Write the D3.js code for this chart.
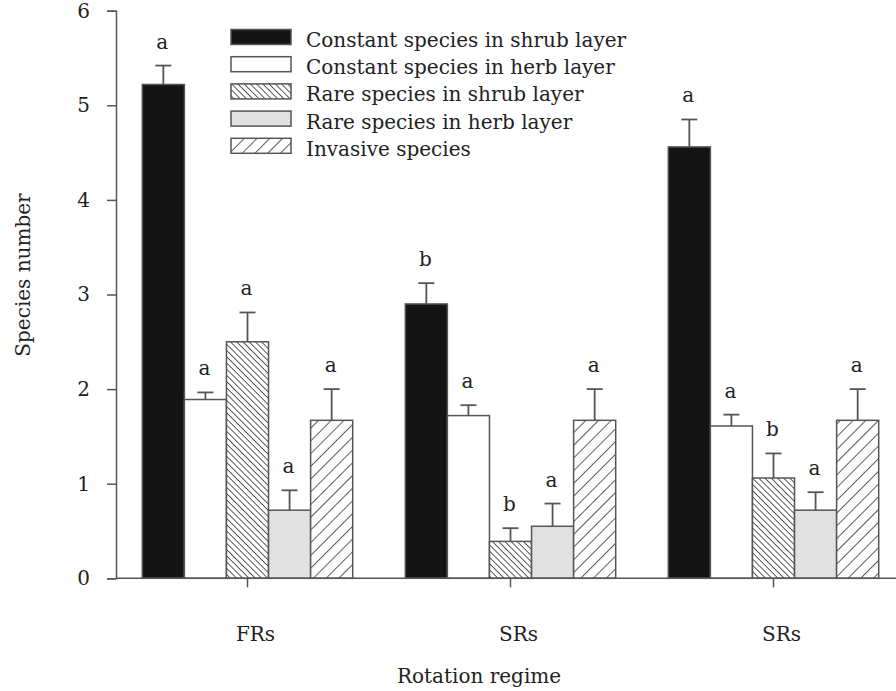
<!DOCTYPE html>
<html>
<head>
<meta charset="utf-8">
<script src="https://cdn.jsdelivr.net/npm/d3@7"></script>
<style>
  html, body { margin: 0; padding: 0; background: #fff; }
  svg text { font-family: "DejaVu Serif", "Liberation Serif", serif; fill: #222; }
</style>
</head>
<body>
<svg id="chart" width="896" height="691"></svg>
<script>
// Rotation regimes (x groups)
const regimes = ["FRs", "SRs", "SRs "];
const regimeLabels = ["FRs", "SRs", "SRs"];

// Species groups (series)
const seriesNames = [
  "Constant species in shrub layer",
  "Constant species in herb layer",
  "Rare species in shrub layer",
  "Rare species in herb layer",
  "Invasive species"
];

// Means per regime for each series
const constantShrub = [5.22, 2.90, 4.56];
const constantHerb  = [1.89, 1.72, 1.61];
const rareShrub     = [2.50, 0.39, 1.06];
const rareHerb      = [0.72, 0.55, 0.72];
const invasive      = [1.67, 1.67, 1.67];

// Standard errors
const errConstantShrub = [0.20, 0.22, 0.29];
const errConstantHerb  = [0.075, 0.11, 0.12];
const errRareShrub     = [0.31, 0.14, 0.26];
const errRareHerb      = [0.21, 0.24, 0.19];
const errInvasive      = [0.33, 0.33, 0.33];

// Significance letters
const letConstantShrub = ["a", "b", "a"];
const letConstantHerb  = ["a", "a", "a"];
const letRareShrub     = ["a", "b", "b"];
const letRareHerb      = ["a", "a", "a"];
const letInvasive      = ["a", "a", "a"];

const yTicks = [0, 1, 2, 3, 4, 5, 6];

const values  = [constantShrub, constantHerb, rareShrub, rareHerb, invasive];
const errors  = [errConstantShrub, errConstantHerb, errRareShrub, errRareHerb, errInvasive];
const letters = [letConstantShrub, letConstantHerb, letRareShrub, letRareHerb, letInvasive];
const fills   = ["#141414", "#ffffff", "url(#hatchBack)", "#e1e1e1", "url(#hatchFwd)"];

const svg = d3.select("#chart");
const stroke = "#555";
const FONT = "DejaVu Serif, Liberation Serif, serif";
const FS = 20;

// Hatch patterns
const defs = svg.append("defs");
const back = defs.append("pattern")
  .attr("id", "hatchBack").attr("patternUnits", "userSpaceOnUse")
  .attr("width", 4.4).attr("height", 4.4)
  .attr("patternTransform", "rotate(-45)");
back.append("rect").attr("width", 4.4).attr("height", 4.4).attr("fill", "#fff");
back.append("line").attr("x1", 0).attr("y1", 0).attr("x2", 0).attr("y2", 4.4)
  .attr("stroke", "#333").attr("stroke-width", 1.6);

const fwd = defs.append("pattern")
  .attr("id", "hatchFwd").attr("patternUnits", "userSpaceOnUse")
  .attr("width", 9).attr("height", 9)
  .attr("patternTransform", "rotate(45)");
fwd.append("rect").attr("width", 9).attr("height", 9).attr("fill", "#fff");
fwd.append("line").attr("x1", 0).attr("y1", 0).attr("x2", 0).attr("y2", 9)
  .attr("stroke", "#333").attr("stroke-width", 1.6);

// Scales
const x0 = d3.scaleBand().domain(regimes).range([116, 905])
  .paddingInner(0.2).paddingOuter(0.1);
const x1 = d3.scaleBand().domain(d3.range(seriesNames.length))
  .range([0, x0.bandwidth()]).padding(0);
const y = d3.scaleLinear().domain([0, 6]).range([578.3, 10.7]);

// Bars
const rows = [];
regimes.forEach((r, gi) => {
  seriesNames.forEach((s, si) => {
    rows.push({ r, gi, si, v: values[si][gi], e: errors[si][gi], l: letters[si][gi] });
  });
});

const g = svg.append("g");
g.selectAll("rect.bar").data(rows).join("rect")
  .attr("class", "bar")
  .attr("x", d => x0(d.r) + x1(d.si))
  .attr("y", d => y(d.v))
  .attr("width", x1.bandwidth())
  .attr("height", d => y(0) - y(d.v))
  .attr("fill", d => fills[d.si])
  .attr("stroke", stroke).attr("stroke-width", 1.5);

// Error bars (upper only)
const cx = d => x0(d.r) + x1(d.si) + x1.bandwidth() / 2;
g.selectAll("line.err").data(rows).join("line")
  .attr("class", "err")
  .attr("x1", cx).attr("x2", cx)
  .attr("y1", d => y(d.v)).attr("y2", d => y(d.v + d.e))
  .attr("stroke", stroke).attr("stroke-width", 1.8);
g.selectAll("line.cap").data(rows).join("line")
  .attr("class", "cap")
  .attr("x1", d => cx(d) - 8).attr("x2", d => cx(d) + 8)
  .attr("y1", d => y(d.v + d.e)).attr("y2", d => y(d.v + d.e))
  .attr("stroke", stroke).attr("stroke-width", 1.8);

// Significance letters
g.selectAll("text.sig").data(rows).join("text")
  .attr("class", "sig")
  .attr("x", d => cx(d) - 1)
  .attr("y", d => y(d.v + d.e) - 17)
  .attr("text-anchor", "middle")
  .attr("font-size", FS)
  .text(d => d.l);

// Y axis
const yAxis = svg.append("g").attr("transform", "translate(116,0)")
  .call(d3.axisLeft(y).tickValues(yTicks).tickSize(9).tickPadding(17).tickFormat(d3.format("d")));
yAxis.select(".domain").attr("stroke", stroke).attr("stroke-width", 1.5);
yAxis.selectAll(".tick line").attr("stroke", stroke).attr("stroke-width", 1.5);
yAxis.selectAll(".tick text").attr("font-size", FS).attr("fill", "#222")
  .attr("font-family", FONT);

// X axis
const xAxis = svg.append("g").attr("transform", `translate(0,${y(0)})`)
  .call(d3.axisBottom(x0).tickSize(9).tickPadding(40)
    .tickFormat((d, i) => regimeLabels[i]));
xAxis.select(".domain").attr("stroke", stroke).attr("stroke-width", 1.5)
  .attr("d", `M116,0H896`);
xAxis.selectAll(".tick line").attr("stroke", stroke).attr("stroke-width", 1.5);
xAxis.selectAll(".tick text").attr("font-size", FS).attr("fill", "#222")
  .attr("font-family", FONT).attr("dx", 8);

// Axis titles
svg.append("text")
  .attr("transform", "translate(30,275) rotate(-90)")
  .attr("text-anchor", "middle").attr("font-size", FS)
  .text("Species number");
svg.append("text")
  .attr("x", 479).attr("y", 683)
  .attr("text-anchor", "middle").attr("font-size", FS)
  .text("Rotation regime");

// Legend
const legend = svg.append("g").attr("transform", "translate(231,29.5)");
const li = legend.selectAll("g").data(seriesNames).join("g")
  .attr("transform", (d, i) => `translate(0,${i * 27.2})`);
li.append("rect").attr("width", 60).attr("height", 15)
  .attr("fill", (d, i) => fills[i]).attr("stroke", stroke).attr("stroke-width", 1.5);
li.append("text").attr("x", 75).attr("y", 17.5)
  .attr("font-size", FS).text(d => d);
</script>
</body>
</html>
